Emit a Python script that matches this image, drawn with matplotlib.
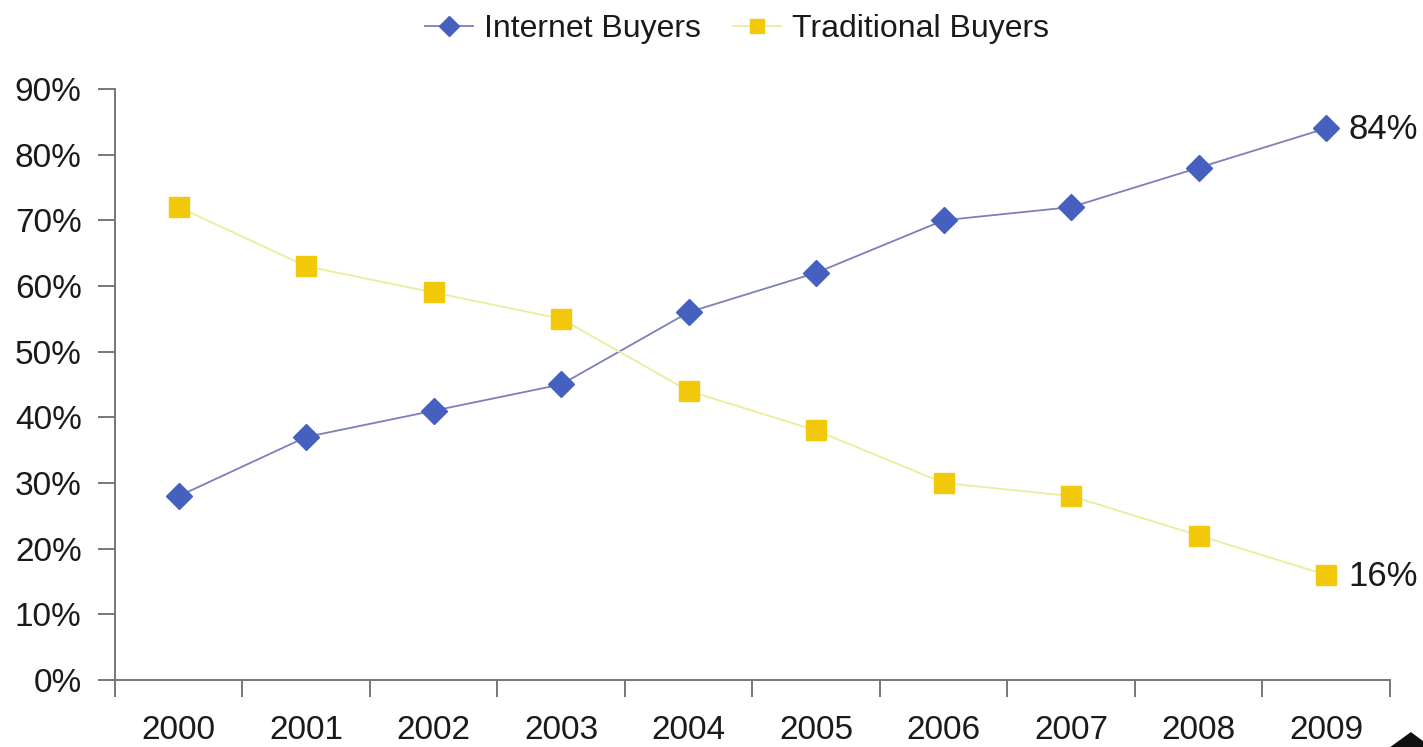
import matplotlib
matplotlib.use("Agg")
import matplotlib.pyplot as plt
from matplotlib.patches import Polygon
import numpy as np

plt.rcParams['font.family'] = ['Liberation Sans', 'DejaVu Sans']

years = ["2000", "2001", "2002", "2003", "2004", "2005", "2006", "2007", "2008", "2009"]
internet_buyers = [28, 37, 41, 45, 56, 62, 70, 72, 78, 84]
traditional_buyers = [72, 63, 59, 55, 44, 38, 30, 28, 22, 16]
y_ticks = [0, 10, 20, 30, 40, 50, 60, 70, 80, 90]

fig = plt.figure(figsize=(14.23, 7.47), dpi=100)
ax = fig.add_axes([0.0808, 0.0897, 0.896, 0.7913])

x = np.arange(len(years))
ax.plot(x, internet_buyers, color="#7b80b8", lw=1.3, marker="D", ms=13,
        mfc="#4560bf", mec="#4560bf", label="Internet Buyers", zorder=3)
ax.plot(x, traditional_buyers, color="#ecec9c", lw=1.3, marker="s", ms=14,
        mfc="#f2c80a", mec="#f2c80a", label="Traditional Buyers", zorder=3)

for series in (internet_buyers, traditional_buyers):
    ax.annotate(f"{series[-1]}%", (x[-1], series[-1]),
                xytext=(16, -1), textcoords="offset points", va="center", ha="left",
                fontsize=25, color="#1a1a1a", annotation_clip=False)

ax.set_xlim(-0.5, len(years) - 0.5)
ax.set_ylim(0, 90)
ax.set_yticks(y_ticks)
ax.set_yticklabels([f"{v}%" for v in y_ticks])

# category boundaries carry the tick marks, centres carry the labels
ax.set_xticks(np.arange(-0.5, len(years), 1.0))
ax.set_xticklabels([])
ax.set_xticks(x, minor=True)
ax.set_xticklabels(years, minor=True)
ax.tick_params(axis="x", which="major", direction="out", length=12, width=1.4, color="#777777")
ax.tick_params(axis="x", which="minor", length=0, pad=25, labelsize=24, labelcolor="#1a1a1a")
ax.tick_params(axis="y", direction="out", length=12, width=1.4, color="#777777",
               pad=12, labelsize=24, labelcolor="#1a1a1a")

for side in ("top", "right"):
    ax.spines[side].set_visible(False)
for side in ("left", "bottom"):
    ax.spines[side].set_color("#777777")
    ax.spines[side].set_linewidth(1.4)

leg = fig.legend(loc="upper center", bbox_to_anchor=(0.518, 1.02), ncol=2, frameon=False,
                 fontsize=23, handlelength=1.5, handletextpad=0.35, columnspacing=1.0,
                 markerscale=0.75)
for t in leg.get_texts():
    t.set_color("#1a1a1a")

# small dark corner glyph at the bottom right edge
corner = Polygon([[0.977, 0.0], [0.9915, 0.02], [1.0, 0.008], [1.0, 0.0]], closed=True,
                 transform=fig.transFigure, facecolor="#111111", edgecolor="none",
                 zorder=10)
fig.add_artist(corner)

fig.savefig("out.png", dpi=100, facecolor="white")
